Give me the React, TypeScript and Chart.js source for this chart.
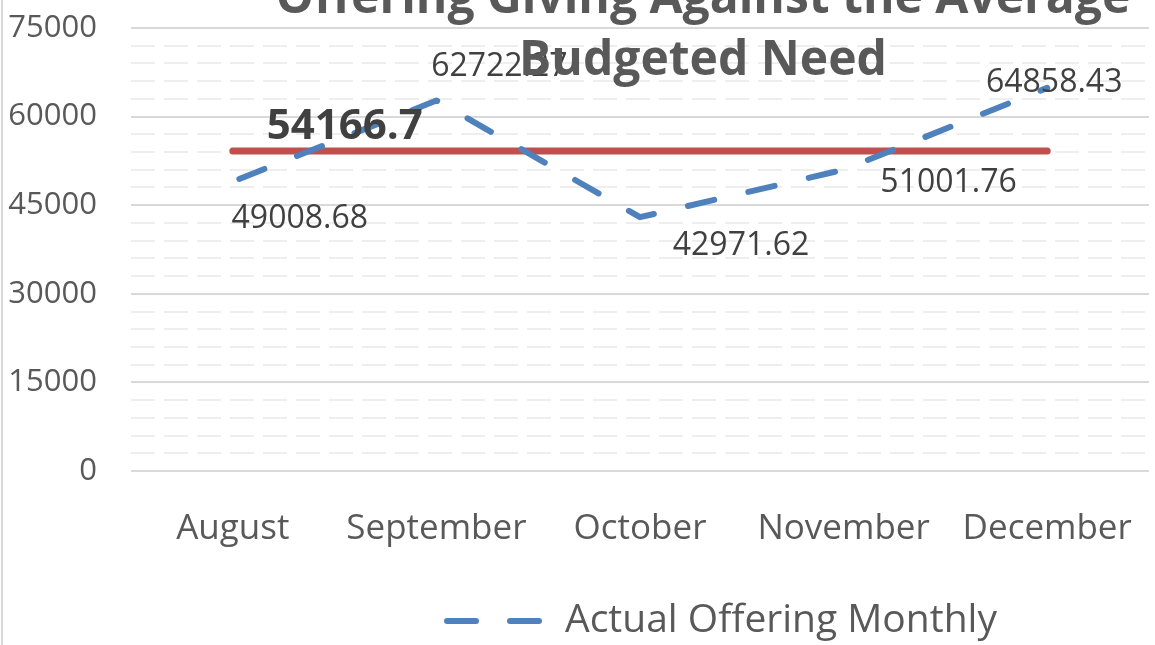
import React, { useEffect, useRef } from 'react';
import { Chart, registerables } from 'chart.js';

Chart.register(...registerables);

// ---- data ----
const months = ['August', 'September', 'October', 'November', 'December'];
const actualOffering = [49008.68, 62722.27, 42971.62, 51001.76, 64858.43];
const averageBudgetedNeed = [54166.7, 54166.7, 54166.7, 54166.7, 54166.7];
const yMin = 0;
const yMax = 75000;
const yMajorStep = 15000;
const yMinorStep = 3000;
const titleLines = ['Offering Giving Against the Average', 'Budgeted Need'];
const seriesName = 'Actual Offering Monthly';
const averageName = 'Average Budgeted Need';

const FONT = '"Open Sans", "Noto Sans", sans-serif';
const BLUE = '#4f81bd';
const RED = '#c0504d';
const LINE_DASH = [27, 35];
const LEGEND_DASH = [29, 34];

const minorGridPlugin = {
  id: 'minorGrid',
  beforeDatasetsDraw(chart: any) {
    const { ctx, chartArea, scales } = chart;
    const y = scales.y;
    ctx.save();
    ctx.strokeStyle = '#eeeeee';
    ctx.lineWidth = 2;
    ctx.setLineDash([24, 9]);
    for (let v = yMin + yMinorStep; v < yMax; v += yMinorStep) {
      if (v % yMajorStep === 0) continue;
      const py = Math.round(y.getPixelForValue(v));
      ctx.beginPath();
      ctx.moveTo(chartArea.left, py);
      ctx.lineTo(chartArea.right, py);
      ctx.stroke();
    }
    ctx.restore();
  },
};

const labelOffsets = [
  [67, 37.5],
  [63, -33.5],
  [101, 29],
  [105, 13],
  [7, -5.5],
];

const dataLabelPlugin = {
  id: 'dataLabels',
  afterDatasetsDraw(chart: any) {
    const { ctx } = chart;
    ctx.save();
    ctx.textAlign = 'center';
    ctx.textBaseline = 'middle';
    ctx.fillStyle = '#404040';
    const meta0 = chart.getDatasetMeta(0);
    ctx.font = `32px ${FONT}`;
    meta0.data.forEach((pt: any, i: number) => {
      const [dx, dy] = labelOffsets[i];
      ctx.fillText(actualOffering[i].toFixed(2), pt.x + dx, pt.y + dy);
    });
    const meta1 = chart.getDatasetMeta(1);
    const p = meta1.data[0];
    ctx.font = `bold 42px ${FONT}`;
    ctx.fillText(String(averageBudgetedNeed[0]), p.x + 112, p.y - 24);
    ctx.restore();
  },
};

const decorPlugin = {
  id: 'decor',
  afterDraw(chart: any) {
    const { ctx } = chart;
    ctx.save();
    // outer left border
    ctx.fillStyle = '#d9d9d9';
    ctx.fillRect(1, 0, 2, chart.height);
    // title (overlapping the plot)
    ctx.fillStyle = '#595959';
    ctx.font = `bold 48px ${FONT}`;
    ctx.textAlign = 'center';
    ctx.textBaseline = 'alphabetic';
    ctx.fillText(titleLines[0], 703, 13);
    ctx.fillText(titleLines[1], 703, 75);
    // legend
    ctx.strokeStyle = BLUE;
    ctx.lineWidth = 6;
    ctx.lineCap = 'round';
    ctx.setLineDash(LEGEND_DASH);
    ctx.beginPath();
    ctx.moveTo(447, 621);
    ctx.lineTo(540, 621);
    ctx.stroke();
    ctx.setLineDash([]);
    ctx.fillStyle = '#595959';
    ctx.font = `39px ${FONT}`;
    ctx.textAlign = 'left';
    ctx.textBaseline = 'middle';
    ctx.fillText(seriesName, 565, 621);
    ctx.restore();
  },
};

export default function App() {
  const canvasRef = useRef<HTMLCanvasElement | null>(null);

  useEffect(() => {
    document.body.style.margin = '0';
    const canvas = canvasRef.current;
    if (!canvas) return;
    const chart = new Chart(canvas, {
      type: 'line',
      data: {
        labels: months,
        datasets: [
          {
            label: seriesName,
            data: actualOffering,
            borderColor: BLUE,
            backgroundColor: BLUE,
            borderWidth: 6,
            borderDash: LINE_DASH,
            borderDashOffset: 55,
            borderCapStyle: 'round',
            borderJoinStyle: 'round',
            pointRadius: 0,
            pointHoverRadius: 0,
            tension: 0,
            fill: false,
          },
          {
            label: averageName,
            data: averageBudgetedNeed,
            borderColor: RED,
            backgroundColor: RED,
            borderWidth: 7,
            borderCapStyle: 'round',
            pointRadius: 0,
            pointHoverRadius: 0,
            tension: 0,
            fill: false,
          },
        ],
      },
      options: {
        responsive: false,
        animation: false,
        events: [],
        layout: { padding: { top: 28, right: 6, left: 0, bottom: 0 } },
        plugins: {
          legend: { display: false },
          title: { display: false },
          tooltip: { enabled: false },
        },
        scales: {
          x: {
            offset: true,
            grid: { display: false, drawTicks: false },
            border: { display: false },
            ticks: {
              padding: 37,
              color: '#595959',
              font: { family: FONT, size: 35 },
              maxRotation: 0,
              autoSkip: false,
            },
            afterFit(scale: any) {
              scale.height = 174;
              scale.paddingLeft = 0;
              scale.paddingRight = 0;
            },
          },
          y: {
            min: yMin,
            max: yMax,
            border: { display: false },
            grid: { color: '#d9d9d9', lineWidth: 2, drawTicks: false },
            ticks: {
              stepSize: yMajorStep,
              padding: 34,
              color: '#595959',
              font: { family: FONT, size: 31 },
              callback: (v: any) => String(v),
            },
            afterFit(scale: any) {
              scale.width = 131;
              scale.paddingTop = 0;
              scale.paddingBottom = 0;
            },
          },
        },
      },
      plugins: [minorGridPlugin, dataLabelPlugin, decorPlugin],
    });
    return () => chart.destroy();
  }, []);

  return (
    <div style={{ position: 'absolute', left: 0, top: 0, width: 1155, height: 645, background: '#ffffff' }}>
      <canvas ref={canvasRef} width={1155} height={645} style={{ display: 'block' }} />
    </div>
  );
}
